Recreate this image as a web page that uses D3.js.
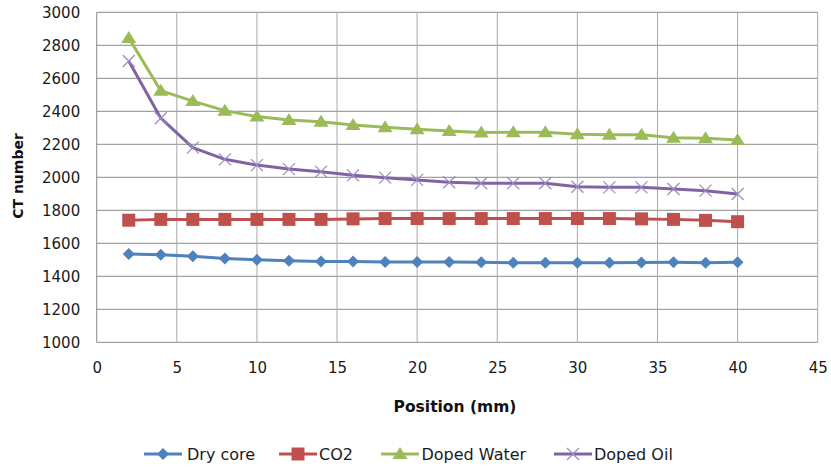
<!DOCTYPE html>
<html>
<head>
<meta charset="utf-8">
<script src="https://cdn.jsdelivr.net/npm/d3@7"></script>
<style>
  html, body { margin: 0; padding: 0; background: #fff; }
  svg { display: block; font-family: "DejaVu Sans", "Liberation Sans", sans-serif; }
</style>
</head>
<body>
<svg id="chart" width="831" height="467"></svg>
<script>
// Position along the core (mm)
const positions = [2, 4, 6, 8, 10, 12, 14, 16, 18, 20, 22, 24, 26, 28, 30, 32, 34, 36, 38, 40];

// CT number per series
const dryCore = [1535, 1530, 1522, 1508, 1500, 1494, 1490, 1490, 1487, 1486, 1486, 1485, 1482, 1482, 1482, 1482, 1484, 1485, 1482, 1485];
const co2 = [1740, 1745, 1745, 1745, 1745, 1745, 1745, 1748, 1750, 1750, 1750, 1750, 1750, 1750, 1750, 1750, 1748, 1745, 1739, 1731];
const dopedWater = [2845, 2525, 2462, 2404, 2368, 2347, 2337, 2317, 2303, 2291, 2281, 2272, 2273, 2273, 2261, 2258, 2258, 2240, 2236, 2226];
const dopedOil = [2705, 2358, 2180, 2109, 2074, 2050, 2034, 2012, 1998, 1984, 1970, 1964, 1964, 1964, 1943, 1939, 1939, 1929, 1919, 1899];

const seriesNames = ["Dry core", "CO2", "Doped Water", "Doped Oil"];
const seriesValues = [dryCore, co2, dopedWater, dopedOil];
const seriesColors = ["#4F81BD", "#C0504D", "#9BBB59", "#8064A2"];
const seriesMarkers = ["diamond", "square", "triangle", "cross"];

const xTicks = [0, 5, 10, 15, 20, 25, 30, 35, 40, 45];
const yTicks = [1000, 1200, 1400, 1600, 1800, 2000, 2200, 2400, 2600, 2800, 3000];

const svg = d3.select("#chart");
const plotLeft = 96.7, plotRight = 817.7, plotTop = 12.3, plotBottom = 342.3;

const x = d3.scaleLinear().domain([0, 45]).range([plotLeft, plotRight]);
const y = d3.scaleLinear().domain([1000, 3000]).range([plotBottom, plotTop]);

// Gridlines
const grid = svg.append("g");
grid.selectAll("line.h").data(yTicks).join("line")
  .attr("x1", plotLeft).attr("x2", plotRight)
  .attr("y1", d => y(d)).attr("y2", d => y(d))
  .attr("stroke", "#8a8a8a").attr("stroke-width", 1);
grid.selectAll("line.v").data(xTicks).join("line")
  .attr("y1", plotTop).attr("y2", plotBottom)
  .attr("x1", d => x(d)).attr("x2", d => x(d))
  .attr("stroke", d => d === 0 ? "#8a8a8a" : "#a8a8a8").attr("stroke-width", 1);

// Axes (labels only, lines come from grid)
const yAxis = svg.append("g").attr("transform", `translate(${plotLeft - 16.5},0)`)
  .call(d3.axisLeft(y).tickValues(yTicks).tickSize(0).tickPadding(0).tickFormat(d3.format("d")));
yAxis.select(".domain").remove();
yAxis.selectAll("text").attr("font-size", 15).attr("fill", "#1a1a1a")
  .attr("font-family", "'DejaVu Sans', sans-serif");

const xAxis = svg.append("g").attr("transform", `translate(0,${plotBottom + 20})`)
  .call(d3.axisBottom(x).tickValues(xTicks).tickSize(0).tickPadding(0).tickFormat(d3.format("d")));
xAxis.select(".domain").remove();
xAxis.selectAll("text").attr("font-size", 15).attr("fill", "#1a1a1a")
  .attr("font-family", "'DejaVu Sans', sans-serif");

// Axis titles
svg.append("text")
  .attr("x", 455).attr("y", 411.5)
  .attr("text-anchor", "middle")
  .attr("font-size", 15.5).attr("font-weight", "bold").attr("fill", "#111")
  .text("Position (mm)");
svg.append("text")
  .attr("transform", `translate(23,176) rotate(-90)`)
  .attr("text-anchor", "middle")
  .attr("font-size", 14).attr("font-weight", "bold").attr("fill", "#111")
  .text("CT number");

// Marker shapes
function drawMarker(g, kind, color, cx, cy) {
  if (kind === "diamond") {
    g.append("path").attr("d", `M${cx},${cy - 6}L${cx + 6},${cy}L${cx},${cy + 6}L${cx - 6},${cy}Z`).attr("fill", color);
  } else if (kind === "square") {
    g.append("rect").attr("x", cx - 6.5).attr("y", cy - 6.5).attr("width", 13).attr("height", 13).attr("fill", color);
  } else if (kind === "triangle") {
    g.append("path").attr("d", `M${cx},${cy - 7}L${cx + 7.5},${cy + 5}L${cx - 7.5},${cy + 5}Z`).attr("fill", color);
  } else {
    g.append("path").attr("d", `M${cx - 6},${cy - 6}L${cx + 6},${cy + 6}M${cx + 6},${cy - 6}L${cx - 6},${cy + 6}`)
      .attr("stroke", "#9d88c0").attr("stroke-width", 1.2).attr("fill", "none");
  }
}

const line = d3.line().x(d => x(d[0])).y(d => y(d[1]));

seriesValues.forEach((vals, i) => {
  const pts = positions.map((p, j) => [p, vals[j]]);
  const g = svg.append("g");
  g.append("path").datum(pts).attr("d", line)
    .attr("fill", "none").attr("stroke", seriesColors[i]).attr("stroke-width", 3)
    .attr("stroke-linejoin", "round");
  pts.forEach(p => drawMarker(g, seriesMarkers[i], seriesColors[i], x(p[0]), y(p[1])));
});

// Legend
const legendItems = [
  { lx: 144, tx: 187 },
  { lx: 279, tx: 319 },
  { lx: 381, tx: 421.5 },
  { lx: 554, tx: 594 }
];
const ly = 454;
legendItems.forEach((it, i) => {
  const g = svg.append("g");
  g.append("line").attr("x1", it.lx).attr("x2", it.lx + 38).attr("y1", ly).attr("y2", ly)
    .attr("stroke", seriesColors[i]).attr("stroke-width", 3);
  drawMarker(g, seriesMarkers[i], seriesColors[i], it.lx + 19, ly);
  g.append("text").attr("x", it.tx).attr("y", ly + 5.5)
    .attr("font-size", 16).attr("fill", "#1a1a1a")
    .text(seriesNames[i]);
});
</script>
</body>
</html>
